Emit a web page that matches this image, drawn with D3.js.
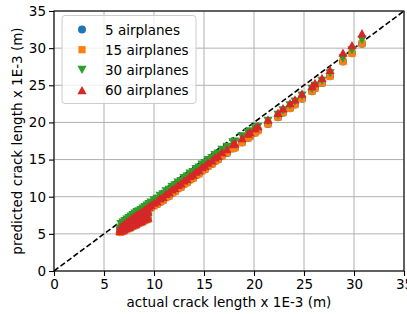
<!DOCTYPE html>
<html><head><meta charset="utf-8">
<script src="https://cdn.jsdelivr.net/npm/d3@7"></script>
<style>
html,body{margin:0;padding:0;background:#fff;overflow:hidden;}
svg{display:block;font-family:"DejaVu Sans",sans-serif;}
</style></head>
<body><svg id="c" width="407" height="314"></svg>
<script>
// ---- data ----
const xTicks = [0,5,10,15,20,25,30,35];
const yTicks = [0,5,10,15,20,25,30,35];
const seriesNames = ["5 airplanes","15 airplanes","30 airplanes","60 airplanes"];
const seriesColors = ["#1f77b4","#ff7f0e","#2ca02c","#d62728"];

const actual = [
 6.6,6.8,7.0,7.2,7.4,7.6,7.8,8.0,8.2,8.4,8.6,8.8,9.0,9.2,9.4,
 6.6,6.8,7.0,7.2,7.4,7.6,7.8,8.0,8.2,8.4,8.6,8.8,9.0,9.2,9.4,
 6.7,6.9,7.1,7.3,7.5,7.7,7.9,8.1,8.3,8.5,8.7,8.9,9.1,9.3,9.5,
 9.7,10.0,10.3,10.6,10.9,11.2,11.5,11.8,12.1,12.4,12.7,13.0,13.3,13.6,13.9,
 14.2,14.5,14.8,15.1,15.4,15.8,16.1,16.4,16.8,17.3,17.9,18.1,18.8,19.4,19.6,
 20.1,20.4,21.4,22.4,22.9,23.6,24.1,24.8,25.8,26.1,26.8,27.6,28.9,29.8,30.8
];
const pred5 = [
 5.2,5.3,5.4,5.6,5.7,5.8,6.0,6.1,6.2,6.4,6.5,6.6,6.8,6.9,7.0,
 5.7,5.9,6.0,6.2,6.4,6.5,6.7,6.9,7.0,7.2,7.3,7.5,7.7,7.8,8.0,
 5.7,5.9,6.1,6.3,6.5,6.7,6.9,7.1,7.3,7.4,7.6,7.8,8.0,8.2,8.4,
 8.5,8.8,9.0,9.3,9.5,9.9,10.1,10.5,10.7,11.1,11.3,11.7,11.9,12.3,12.5,
 12.9,13.1,13.5,13.7,14.1,14.4,14.8,15.0,15.5,15.9,16.5,16.6,17.3,17.9,18.1,
 18.6,18.9,19.8,20.7,21.3,21.9,22.4,23.2,24.2,24.6,25.3,26.2,28.2,29.3,30.6
];
const pred15 = [
 5.2,5.3,5.4,5.6,5.7,5.8,6.0,6.1,6.2,6.4,6.5,6.6,6.8,6.9,7.0,
 5.7,5.9,6.0,6.2,6.4,6.5,6.7,6.9,7.0,7.2,7.3,7.5,7.7,7.8,8.0,
 5.7,5.9,6.1,6.3,6.5,6.7,6.9,7.1,7.3,7.4,7.6,7.8,8.0,8.2,8.4,
 8.5,8.8,9.0,9.3,9.5,9.9,10.1,10.5,10.7,11.1,11.3,11.7,11.9,12.3,12.5,
 12.9,13.1,13.5,13.7,14.1,14.4,14.8,15.0,15.5,15.9,16.5,16.6,17.3,17.9,18.1,
 18.6,18.9,19.8,20.7,21.3,21.9,22.4,23.2,24.2,24.6,25.3,26.2,28.2,29.3,30.6
];
const pred30 = [
 5.4,5.5,5.6,5.8,5.9,6.0,6.2,6.3,6.4,6.6,6.7,6.8,7.0,7.1,7.2,
 5.7,5.9,6.0,6.2,6.4,6.5,6.7,6.9,7.0,7.2,7.3,7.5,7.7,7.8,8.0,
 6.3,6.5,6.7,6.9,7.1,7.3,7.5,7.7,7.9,8.0,8.2,8.4,8.6,8.8,9.0,
 9.2,9.5,9.7,10.1,10.3,10.7,10.9,11.3,11.5,11.9,12.1,12.5,12.7,13.1,13.3,
 13.7,13.9,14.3,14.5,14.9,15.2,15.6,15.8,16.3,16.7,17.3,17.4,18.1,18.6,18.8,
 19.2,19.4,20.2,21.0,21.6,22.3,22.8,23.6,24.5,24.9,25.6,26.6,28.6,29.7,31.1
];
const pred60 = [
 5.4,5.5,5.6,5.8,5.9,6.0,6.2,6.3,6.4,6.6,6.7,6.8,7.0,7.1,7.2,
 5.7,5.9,6.0,6.2,6.4,6.5,6.7,6.9,7.0,7.2,7.3,7.5,7.7,7.8,8.0,
 6.0,6.2,6.4,6.6,6.8,7.0,7.2,7.4,7.6,7.7,7.9,8.1,8.3,8.5,8.7,
 8.9,9.2,9.4,9.8,10.0,10.4,10.6,11.0,11.2,11.6,11.8,12.2,12.4,12.8,13.0,
 13.4,13.6,14.0,14.2,14.6,14.9,15.3,15.5,16.0,16.4,17.1,17.2,17.9,18.5,18.7,
 19.2,19.5,20.4,21.3,21.9,22.6,23.1,23.9,24.9,25.3,26.0,27.1,29.4,30.4,32.0
];
const seriesValues = [pred5, pred15, pred30, pred60];
const diagonal = [[0,0],[35,35]];

// ---- layout ----
const L = 54, R = 404, T = 11, B = 271;
const svg = d3.select("#c");
const x = d3.scaleLinear().domain([0,35]).range([L,R]);
const y = d3.scaleLinear().domain([0,35]).range([B,T]);
const fs = "13.5px";

// grid
const g = svg.append("g");
g.selectAll("line.gx").data(xTicks).join("line")
  .attr("x1",d=>x(d)).attr("x2",d=>x(d)).attr("y1",T).attr("y2",B)
  .attr("stroke","#b0b0b0").attr("stroke-width",1);
g.selectAll("line.gy").data(yTicks).join("line")
  .attr("y1",d=>y(d)).attr("y2",d=>y(d)).attr("x1",L).attr("x2",R)
  .attr("stroke","#b0b0b0").attr("stroke-width",1);

// diagonal
svg.append("path").attr("d", d3.line().x(d=>x(d[0])).y(d=>y(d[1]))(diagonal))
  .attr("stroke","#000").attr("stroke-width",1.6).attr("fill","none")
  .attr("stroke-dasharray","5.5,2.6");

// markers
function markerPath(i){
  if(i===0) return d3.symbol().type(d3.symbolCircle).size(Math.PI*4*4)();
  if(i===1) return "M-3.6,-3.6H3.6V3.6H-3.6Z";
  if(i===2) return "M-4.6,-4.2L4.6,-4.2L0,4.2Z";
  return "M0,-4.2L4.6,4.2L-4.6,4.2Z";
}
seriesValues.forEach((vals,i)=>{
  svg.append("g").selectAll("path").data(actual.map((a,k)=>[a,vals[k]])).join("path")
    .attr("d",markerPath(i))
    .attr("transform",d=>`translate(${x(d[0])},${y(d[1])})`)
    .attr("fill",seriesColors[i]);
});

// axes
const xa = svg.append("g").attr("transform",`translate(0,${B})`)
  .call(d3.axisBottom(x).tickValues(xTicks).tickSize(5).tickPadding(3).tickFormat(d3.format("d")));
const ya = svg.append("g").attr("transform",`translate(${L},0)`)
  .call(d3.axisLeft(y).tickValues(yTicks).tickSize(5).tickPadding(3).tickFormat(d3.format("d")));
[xa,ya].forEach(a=>{
  a.select(".domain").remove();
  a.selectAll("text").attr("font-size",fs).attr("fill","#000").attr("font-family","DejaVu Sans");
  a.selectAll("line").attr("stroke","#000").attr("stroke-width",1.1);
});
// frame
svg.append("rect").attr("x",L).attr("y",T).attr("width",R-L).attr("height",B-T)
  .attr("fill","none").attr("stroke","#000").attr("stroke-width",1.1);

// axis labels
svg.append("text").attr("x",(L+R)/2).attr("y",307).attr("text-anchor","middle")
  .attr("font-size",fs).text("actual crack length x 1E-3 (m)");
svg.append("text").attr("transform",`translate(22,${(T+B)/2}) rotate(-90)`).attr("text-anchor","middle")
  .attr("font-size",fs).text("predicted crack length x 1E-3 (m)");

// legend
const lg = svg.append("g");
lg.append("rect").attr("x",62).attr("y",15.5).attr("width",134).attr("height",88).attr("rx",3)
  .attr("fill","#fff").attr("fill-opacity",0.8).attr("stroke","#cccccc").attr("stroke-width",1);
seriesNames.forEach((n,i)=>{
  const cy = 29.5 + i*20.2;
  lg.append("path").attr("d",markerPath(i)).attr("transform",`translate(82,${cy})`).attr("fill",seriesColors[i]);
  lg.append("text").attr("x",105).attr("y",cy+5).attr("font-size",fs).text(n);
});
</script></body></html>
